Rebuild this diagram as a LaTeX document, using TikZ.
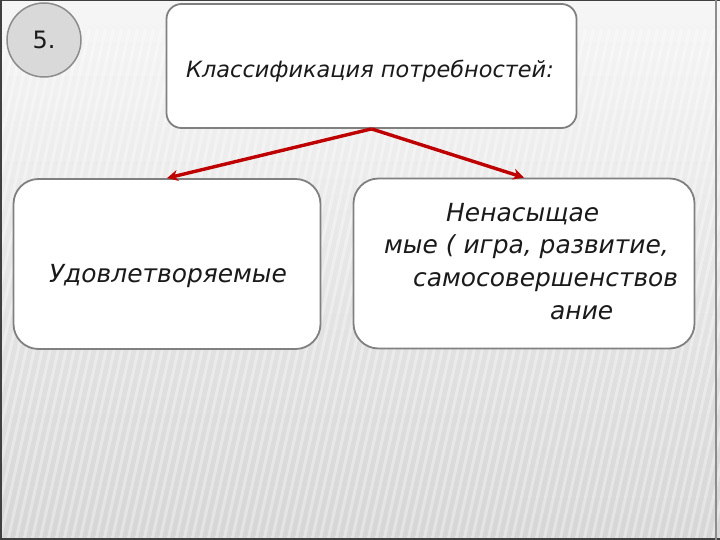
\documentclass[tikz,border=0pt]{standalone}
\usepackage{fontspec}
\setmainfont{DejaVu Sans}
\usetikzlibrary{arrows.meta}
\definecolor{boxline}{HTML}{808080}
\definecolor{arrowred}{HTML}{BE0000}
\definecolor{circfill}{HTML}{D9D9D9}
\definecolor{bgtop}{HTML}{F6F6F6}
\definecolor{bgbot}{HTML}{D6D6D6}
\definecolor{txt}{HTML}{1A1A1A}
\tikzset{
  roundbox/.style={draw=boxline, line width=1.8bp, fill=white, rounded corners=#1, inner sep=0pt},
  conn/.style={draw=arrowred, line width=3.4bp, -{Stealth[length=11bp,width=11bp]}},
  lbl/.style={text=txt, font=\fontsize{25}{31}\selectfont\itshape, inner sep=0pt}
}
\begin{document}
\begin{tikzpicture}[x=1bp,y=-1bp]
\useasboundingbox (0,0) rectangle (720,540);
% background
\shade[top color=bgtop, bottom color=bgbot] (0,0) rectangle (720,540);
\begin{scope}
\clip (0,30) rectangle (720,540);
\foreach \i in {-200,-192,...,720}
  \draw[white, opacity=0.35, line width=3bp] (\i,540) -- (\i+120,0);
\end{scope}
% frame
\draw[black!75, line width=2bp] (1,0) -- (1,540);
\draw[black!75, line width=1.5bp] (0,0.7) -- (720,0.7);
\draw[black!75, line width=2bp] (0,539) -- (720,539);
\draw[black!45, line width=1.5bp] (716,0) -- (716,540);
% number circle
\node[circle, draw=black!45, line width=1.5bp, fill=circfill, minimum size=74bp, inner sep=0pt,
      font=\fontsize{24}{28}\selectfont, text=txt] (num) at (44,40) {5.};
% boxes
\node[roundbox=15bp, minimum width=410bp, minimum height=124bp] (top) at (371.5,66) {};
\node[roundbox=25bp, minimum width=307bp, minimum height=170bp] (left) at (167,264) {};
\node[roundbox=25bp, minimum width=341bp, minimum height=170bp] (right) at (524,263.5) {};
% texts
\node[lbl, font=\fontsize{22.5}{27}\selectfont\itshape, anchor=base] (toptext) at (370,78) {Классификация потребностей:};
\node[lbl, anchor=base] (lefttext) at (168,283) {Удовлетворяемые};
\node[lbl, font=\fontsize{25}{32.7}\selectfont\itshape, align=left, anchor=base west] (righttext) at (384,319)
  {\hspace*{62bp}Ненасыщае\\мые ( игра, развитие,\\\hspace*{29bp}самосовершенствов\\\hspace*{166bp}ание};
% connectors
\coordinate (split) at (top.south);
\draw[conn] (split) -- (left.north);
\draw[conn] (split) -- (right.north);
\end{tikzpicture}
\end{document}
